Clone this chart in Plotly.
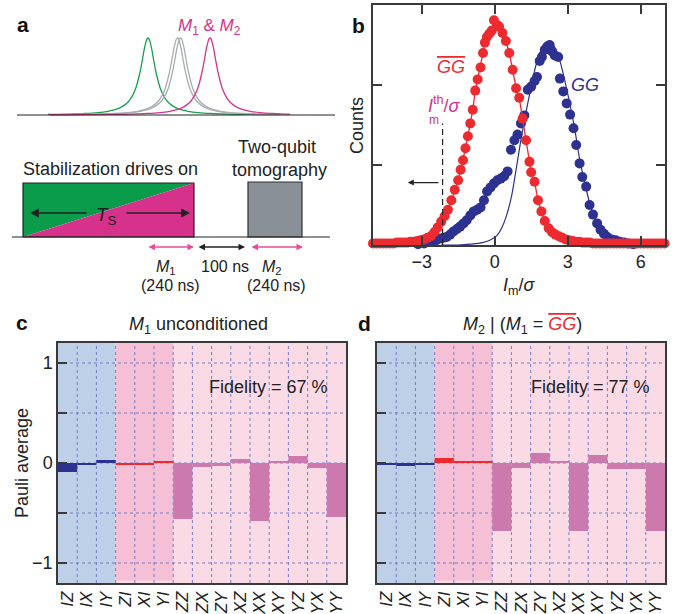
import plotly.graph_objects as go

# ------------------------------------------------------------------ data
# panel a : schematic resonance lines (offset from centre, relative height)
profile_offset = [0, 1, 2, 3, 4, 5, 6, 7, 9, 11, 13, 15, 18, 21, 25, 30, 35, 40, 50, 65, 80, 100, 130, 160]
profile_height = [1.0, 0.99, 0.95, 0.9, 0.84, 0.76, 0.69, 0.62, 0.5, 0.4, 0.32, 0.265, 0.2, 0.155,
                  0.115, 0.083, 0.062, 0.048, 0.031, 0.019, 0.012, 0.008, 0.005, 0.003]
peak_centers = [148, 177.5, 180.5, 210]
peak_colors = ['#16a04e', '#a9adb3', '#a9adb3', '#d6338b']
spectrum_span = [48, 297]

# panel b : histograms of I_m/sigma
red_x = [-5.00, -4.86, -4.72, -4.58, -4.44, -4.30, -4.16, -4.02, -3.88, -3.74, -3.60, -3.46, -3.32,
         -3.18, -3.04, -2.90, -2.76, -2.62, -2.48, -2.34, -2.20, -2.06, -1.92, -1.78, -1.64, -1.50,
         -1.40, -1.30, -1.20, -1.10, -1.00, -0.90, -0.80, -0.70, -0.58, -0.48, -0.40, -0.32, -0.22,
         -0.12, -0.03, 0.10, 0.18, 0.32, 0.46, 0.60, 0.74, 0.88, 1.01, 1.15, 1.29, 1.43, 1.50, 1.64,
         1.78, 1.92, 2.06, 2.22, 2.36, 2.50, 2.64, 2.78, 2.92, 3.06, 3.20, 3.34, 3.48, 3.62, 3.76,
         3.90, 4.04, 4.18, 4.32, 4.46, 4.60, 4.74, 4.88, 5.02, 5.16, 5.30, 5.44, 5.58, 5.72, 5.86,
         6.00, 6.14, 6.28, 6.42, 6.56, 6.70, 6.84, 6.98]
red_y = [0.02, 0.02, 0.02, 0.02, 0.02, 0.02, 0.02, 0.03, 0.03, 0.03, 0.03, 0.04, 0.04,
         0.05, 0.06, 0.07, 0.09, 0.11, 0.16, 0.22, 0.29, 0.36, 0.44, 0.56, 0.69, 0.81,
         0.94, 1.06, 1.21, 1.36, 1.52, 1.69, 1.93, 2.07, 2.22, 2.40, 2.53, 2.60, 2.64,
         2.68, 2.81, 2.75, 2.73, 2.65, 2.55, 2.40, 2.19, 1.96, 1.84, 1.58, 1.31, 1.04, 0.91, 0.79,
         0.56, 0.42, 0.30, 0.21, 0.16, 0.13, 0.11, 0.09, 0.07, 0.06, 0.05, 0.04, 0.04, 0.03, 0.03,
         0.03, 0.02, 0.02, 0.02, 0.02, 0.02, 0.02, 0.02, 0.02, 0.02, 0.02, 0.02, 0.02, 0.02, 0.02,
         0.02, 0.02, 0.02, 0.02, 0.02, 0.02, 0.02, 0.02]
blue_x = [-3.15, -2.90, -2.60, -2.40, -2.25, -2.10, -1.97, -1.83, -1.69, -1.55, -1.42, -1.28, -1.15,
          -1.00, -0.86, -0.72, -0.58, -0.44, -0.31, -0.17, -0.03, 0.11, 0.25, 0.39, 0.53, 0.67,
          0.81, 0.94, 1.08, 1.22, 1.36, 1.50, 1.64, 1.74, 1.85, 1.94, 2.06, 2.16, 2.26, 2.36, 2.47,
          2.61, 2.68, 2.82, 2.96, 3.10, 3.24, 3.35, 3.49, 3.60, 3.76, 3.90, 4.04, 4.21, 4.35, 4.49,
          4.63, 4.80, 4.97, 5.14, 5.32, 5.50, 5.70]
blue_y = [0.01, 0.02, 0.04, 0.06, 0.08, 0.09, 0.10, 0.13, 0.17, 0.20, 0.23, 0.27, 0.31,
          0.37, 0.42, 0.44, 0.47, 0.56, 0.67, 0.72, 0.77, 0.81, 0.83, 0.86, 0.92, 1.19,
          1.31, 1.38, 1.52, 1.62, 1.94, 1.98, 2.05, 2.10, 2.30, 2.35, 2.44, 2.48, 2.50, 2.42, 2.37,
          2.35, 2.08, 1.92, 1.77, 1.63, 1.46, 1.25, 1.02, 0.85, 0.73, 0.50, 0.38, 0.27, 0.19, 0.14,
          0.10, 0.07, 0.06, 0.04, 0.03, 0.02, 0.01]
fit_x = [-2.2, -1.5, -1.0, -0.5, -0.2, 0.1, 0.3, 0.5, 0.7, 0.9, 1.1, 1.3, 1.5, 1.7, 1.9, 2.1, 2.3,
         2.5, 2.7, 2.9, 3.1, 3.3, 3.5, 3.7, 3.9, 4.1, 4.3, 4.5, 4.8, 5.2, 5.8]
fit_y = [0.0, 0.0, 0.01, 0.03, 0.06, 0.12, 0.22, 0.38, 0.62, 0.98, 1.35, 1.68, 1.98, 2.25, 2.43,
         2.52, 2.53, 2.45, 2.28, 2.03, 1.75, 1.43, 1.06, 0.78, 0.53, 0.34, 0.22, 0.13, 0.06, 0.02, 0.0]
threshold = -2.14
b_xticks = [-3, 0, 3, 6]

# panels c, d : Pauli averages
pauli_labels = ['IZ', 'IX', 'IY', 'ZI', 'XI', 'YI', 'ZZ', 'ZX', 'ZY', 'XZ', 'XX', 'XY', 'YZ', 'YX', 'YY']
m1_values = [-0.09, -0.02, 0.03, -0.02, -0.02, 0.02, -0.56, -0.04, -0.03, 0.04, -0.58, 0.02, 0.07, -0.05, -0.54]
m2_values = [-0.02, -0.03, -0.02, 0.05, 0.02, 0.02, -0.68, -0.05, 0.10, 0.02, -0.68, 0.08, -0.06, -0.06, -0.68]
fidelities = [67, 77]
pauli_yticks = [-1, 0, 1]

# ------------------------------------------------------------------ style
W, H = 676, 614
FONT = "Liberation Sans, Arial, sans-serif"
RED = '#ec2b30'
BLUE = '#2d3190'
MAG = '#d6338b'
PINK_ARROW = '#e64c9c'
AX = '#3a3a3a'


def fx(p):
    return p / W


def fy(p):
    return 1 - p / H


fig = go.Figure()

# ---------------- panel a : spectrum
full_off = [-o for o in profile_offset[::-1]] + profile_offset[1:]
full_h = profile_height[::-1] + profile_height[1:]
for c, col in zip(peak_centers, peak_colors):
    xs, ys = [], []
    for o, h in zip(full_off, full_h):
        if spectrum_span[0] <= c + o <= spectrum_span[1]:
            xs.append(c + o)
            ys.append(h)
    fig.add_trace(go.Scatter(x=xs, y=ys, mode='lines', line=dict(color=col, width=1.3, shape='spline'),
                             xaxis='x', yaxis='y5', hoverinfo='skip'))

# ---------------- panel b
fig.add_trace(go.Scatter(x=fit_x, y=fit_y, mode='lines', line=dict(color=BLUE, width=1.2, shape='spline'),
                         xaxis='x2', yaxis='y2', hoverinfo='skip'))
fig.add_trace(go.Scatter(x=blue_x, y=blue_y, mode='markers', marker=dict(color=BLUE, size=10),
                         xaxis='x2', yaxis='y2', cliponaxis=False))
fig.add_trace(go.Scatter(x=red_x, y=red_y, mode='lines+markers', line=dict(color=RED, width=1.3),
                         marker=dict(color=RED, size=10), xaxis='x2', yaxis='y2', cliponaxis=False))

# ---------------- panels c, d
bar_colors = [BLUE] * 3 + [RED] * 3 + ['#cc7aae'] * 9
cats = list(range(len(pauli_labels)))
for vals, xa, ya in [(m1_values, 'x3', 'y3'), (m2_values, 'x4', 'y4')]:
    fig.add_trace(go.Bar(x=cats, y=vals, width=1.0, marker=dict(color=bar_colors, line=dict(width=0)),
                         xaxis=xa, yaxis=ya, hoverinfo='skip'))

shapes = []
# timing diagram (panel a axis units)
shapes.append(dict(type='path', xref='x', yref='y', path='M 23 237 L 23 183 L 194 183 Z',
                   fillcolor='#0a9b4b', line=dict(width=0), layer='below'))
shapes.append(dict(type='path', xref='x', yref='y', path='M 23 237 L 194 183 L 194 237 Z',
                   fillcolor='#d6318b', line=dict(width=0), layer='below'))
shapes.append(dict(type='rect', xref='x', yref='y', x0=23, x1=194, y0=183, y1=237,
                   line=dict(color='#222', width=1.2)))
shapes.append(dict(type='rect', xref='x', yref='y', x0=248, x1=302, y0=182, y1=237,
                   fillcolor='#899097', line=dict(color='#333', width=1.2)))
shapes.append(dict(type='line', xref='x', yref='y', x0=12, x1=330, y0=237, y1=237,
                   line=dict(color='#222', width=1.2)))
shapes.append(dict(type='line', xref='x', yref='y', x0=17, x1=335, y0=115, y1=115,
                   line=dict(color='#222', width=1.2)))
# threshold
shapes.append(dict(type='line', xref='x2', yref='y2', x0=threshold, x1=threshold, y0=0, y1=1.52,
                   line=dict(color='#222', width=1.2, dash='6px,4px')))

# backgrounds + grids for c, d
for xa, ya in [('x3', 'y3'), ('x4', 'y4')]:
    shapes.append(dict(type='rect', xref=xa, yref=ya, x0=-0.5, x1=2.5, y0=-1.2, y1=1.2,
                       fillcolor='#bed0e8', line=dict(width=0), layer='below'))
    shapes.append(dict(type='rect', xref=xa, yref=ya, x0=2.5, x1=14.5, y0=-1.2, y1=1.2,
                       fillcolor='#f9dae5', line=dict(width=0), layer='below'))
    shapes.append(dict(type='rect', xref=xa, yref=ya, x0=2.5, x1=5.5, y0=-1.175, y1=1.2,
                       fillcolor='#f5bfd6', line=dict(width=0), layer='below'))
    for i in range(14):
        shapes.append(dict(type='line', xref=xa, yref=ya, x0=i + 0.5, x1=i + 0.5, y0=-1.2, y1=1.2,
                           line=dict(color='#6b74bd', width=0.9, dash='3px,3px'), layer='between'))
    for v in [-1, -0.5, 0, 0.5, 1]:
        shapes.append(dict(type='line', xref=xa, yref=ya, x0=-0.5, x1=14.5, y0=v, y1=v,
                           line=dict(color='#6b74bd', width=0.9, dash='3px,3px'), layer='between'))

anns = []


def txt(x, y, text, size=18, color='#222', xref='paper', yref='paper', xanchor='center', **kw):
    if xref == 'paper':
        x = fx(x)
    if yref == 'paper':
        y = fy(y)
    anns.append(dict(x=x, y=y, xref=xref, yref=yref, text=text, showarrow=False, xanchor=xanchor,
                     yanchor='middle', font=dict(family=FONT, size=size, color=color), **kw))


def arrow(x0, x1, y, color, width=1.4, both=False, xref='x', yref='y', size=1.0):
    anns.append(dict(x=x1, y=y, ax=x0, ay=y, xref=xref, yref=yref, axref=xref, ayref=yref,
                     text='', showarrow=True, arrowhead=2, arrowsize=size, arrowwidth=width,
                     arrowcolor=color, arrowside='end+start' if both else 'end'))


# panel labels
for lab, x, y in [('a', 23, 24), ('b', 358, 25), ('c', 22, 322), ('d', 364, 323)]:
    txt(x, y, '<b>%s</b>' % lab, size=21, color='#111')

# panel a texts
txt(209, 27, '<i>M</i><sub>1</sub> & <i>M</i><sub>2</sub>', size=17, color=MAG)
txt(110, 169, 'Stabilization drives on', size=18)
txt(277, 147, 'Two-qubit', size=18)
txt(279, 170, 'tomography', size=18)
txt(106, 216, '<i>T</i><sub>S</sub>', size=19)
arrow(88, 30, 213, '#222', width=1.6, size=1.1)
arrow(125, 190, 213, '#222', width=1.6, size=1.1)
arrow(147, 194, 247, PINK_ARROW, width=1.3, both=True)
arrow(197, 245, 247, '#222', width=1.3, both=True)
arrow(250, 303, 247, PINK_ARROW, width=1.3, both=True)
txt(166, 267, '<i>M</i><sub>1</sub>', size=16)
txt(170, 285, '(240 ns)', size=16)
txt(225, 266, '100 ns', size=16)
txt(272, 267, '<i>M</i><sub>2</sub>', size=16)
txt(276, 285, '(240 ns)', size=16)

# panel b texts
txt(-1.79, 2.23, "<span style='text-decoration:overline'><i>GG</i></span>", size=18, color=RED,
    xref='x2', yref='y2')
txt(3.72, 2.0, '<i>GG</i>', size=18, color=BLUE, xref='x2', yref='y2')
txt(444, 105, '<i>I</i><sup>th</sup>/<i>σ</i>', size=18, color=MAG)
txt(434, 120, 'm', size=12, color=MAG)
arrow(-2.25, -3.57, 0.78, '#222', width=1.2, xref='x2', yref='y2', size=1.0)
txt(519, 286, '<i>I</i><sub>m</sub>/<i>σ</i>', size=18)
txt(357, 126, 'Counts', size=18, textangle=-90)

# panel c, d texts
txt(198, 325, '<i>M</i><sub>1</sub> unconditioned', size=18)
txt(522, 325, "<i>M</i><sub>2</sub> | (<i>M</i><sub>1</sub> = "
              "<span style='color:%s;text-decoration:overline'><i>GG</i></span>)" % RED, size=18)
txt(268, 387, 'Fidelity = %d %%' % fidelities[0], size=18)
txt(590, 387, 'Fidelity = %d %%' % fidelities[1], size=18)
txt(22, 463, 'Pauli average', size=18, textangle=-90)

layout = dict(
    width=W, height=H, margin=dict(l=0, r=0, t=0, b=0),
    paper_bgcolor='white', plot_bgcolor='rgba(0,0,0,0)', showlegend=False,
    font=dict(family=FONT, size=17, color='#222'),
    shapes=shapes, annotations=anns,
    xaxis=dict(domain=[0, fx(340)], range=[0, 340], visible=False, fixedrange=True, anchor='y'),
    yaxis=dict(domain=[fy(300), 1], range=[300, 0], visible=False, fixedrange=True, anchor='x'),
    yaxis5=dict(domain=[fy(115 + 0.05 * 77), fy(38 - 0.02 * 77)], range=[-0.05, 1.02], visible=False,
                anchor='x'),
)
box = dict(showline=True, linecolor=AX, linewidth=1.5, showgrid=False, zeroline=False,
           ticks='inside', ticklen=9, tickwidth=1.5, tickcolor=AX)
layout['xaxis2'] = dict(domain=[fx(373), fx(665)], range=[-5, 7], anchor='y2', mirror='ticks',
                        tickvals=b_xticks, ticktext=[str(v).replace('-', '−') for v in b_xticks],
                        tickfont=dict(size=18), **box)
layout['yaxis2'] = dict(domain=[fy(245), fy(5)], range=[0, 3], anchor='x2', mirror='ticks',
                        tickvals=[1, 2], showticklabels=False, **box)

for i, (x0, x1) in enumerate([(58, 346), (377, 665)]):
    n = 3 + i
    layout['xaxis%d' % n] = dict(domain=[fx(x0), fx(x1)], range=[-0.5, 14.5], anchor='y%d' % n,
                                 showline=True, linecolor=AX, linewidth=1.5, mirror=True,
                                 showgrid=False, zeroline=False, ticks='',
                                 tickvals=cats, ticktext=['<i>%s</i>' % l for l in pauli_labels],
                                 tickangle=-90, tickfont=dict(size=17, color='#222'))
    layout['yaxis%d' % n] = dict(domain=[fy(583), fy(343)], range=[-1.2, 1.2], anchor='x%d' % n,
                                 mirror=True, tickvals=pauli_yticks,
                                 ticktext=[str(v).replace('-', '−') for v in pauli_yticks],
                                 showticklabels=(i == 0), tickfont=dict(size=18),
                                 minor=dict(dtick=0.5, tick0=0, ticks='inside', ticklen=9,
                                            tickwidth=1.5, tickcolor=AX, showgrid=False),
                                 **box)

fig.update_layout(**layout)
fig.write_html("out.html", config={'displayModeBar': False},
               post_script="document.body.style.margin='0px';")
